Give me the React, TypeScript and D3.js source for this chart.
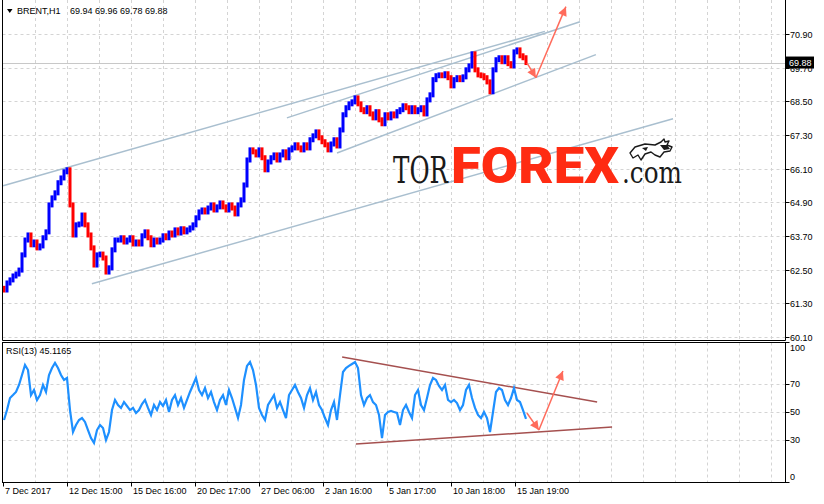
import React, { useEffect, useRef } from "react";
import * as d3 from "d3";

// hourly Brent closes (one every ~3px)
const closes = [
  61.78, 62.03, 62.14, 62.28, 62.35, 62.49, 63.03, 63.56, 63.74, 63.39,
  63.49, 63.28, 63.35, 63.64, 63.85, 64.81, 65.06, 65.24, 65.6, 65.77,
  65.99, 66.06, 64.81, 63.74, 64.1, 64.13, 64.45, 64.1, 63.74, 63.28,
  62.67, 63.03, 63.06, 62.92, 62.42, 62.57, 63.21, 63.56, 63.56, 63.64,
  63.49, 63.56, 63.64, 63.42, 63.49, 63.42, 63.71, 63.85, 63.64, 63.39,
  63.56, 63.49, 63.56, 63.71, 63.64, 63.81, 63.74, 63.92, 63.81, 63.96,
  63.85, 63.92, 63.99, 64.1, 64.35, 64.56, 64.63, 64.56, 64.7, 64.81,
  64.63, 64.74, 64.88, 64.74, 64.63, 64.81, 64.7, 64.49, 64.81, 64.99,
  65.52, 66.41, 66.77, 66.7, 66.59, 66.77, 66.49, 66.06, 66.34, 66.49,
  66.59, 66.41, 66.59, 66.7, 66.49, 66.77, 66.84, 66.95, 66.84, 66.77,
  66.95, 66.84, 67.13, 67.27, 67.41, 67.2, 67.06, 66.95, 66.77, 66.98,
  67.13, 66.91, 67.48, 68.02, 68.27, 68.41, 68.48, 68.62, 68.41, 68.2,
  68.13, 68.27, 68.05, 67.91, 68.13, 67.84, 67.7, 68.02, 67.91, 68.05,
  67.98, 68.13, 68.2, 68.34, 68.27, 68.13, 68.27, 68.13, 68.2, 68.27,
  68.05, 68.55, 68.73, 69.27, 69.41, 69.44, 69.41, 69.48, 69.34, 69.05,
  69.27, 69.34, 69.27, 69.37, 69.62, 69.76, 70.19, 69.62, 69.44, 69.41,
  69.34, 69.19, 68.84, 69.62, 69.98, 70.05, 69.91, 70.05, 69.84, 69.76,
  70.26, 70.33, 70.12, 70.05, 69.88,
];

// RSI(13) at the same bars
const rsiValues = [
  44.3, 51.4, 60.0, 62.1, 64.3, 69.3, 76.4, 83.6, 80.0, 62.1,
  65.7, 58.6, 62.1, 69.3, 64.3, 76.4, 81.4, 85.0, 81.4, 76.4,
  72.9, 74.3, 51.4, 35.7, 40.7, 44.3, 45.7, 42.9, 37.1, 31.4,
  27.9, 37.1, 40.7, 38.6, 30.0, 35.7, 51.4, 58.6, 55.0, 52.9,
  57.1, 54.3, 51.4, 52.9, 49.3, 51.4, 55.7, 58.6, 52.9, 47.9,
  55.0, 51.4, 57.1, 54.3, 58.6, 50.0, 58.6, 62.1, 55.0, 60.0,
  52.9, 58.6, 64.3, 69.3, 74.3, 65.7, 62.1, 67.1, 60.0, 64.3,
  57.1, 51.4, 58.6, 62.1, 55.0, 65.7, 60.0, 52.9, 45.7, 55.0,
  72.9, 82.9, 85.7, 80.0, 69.3, 52.9, 47.9, 44.3, 55.0, 58.6,
  62.1, 52.9, 57.1, 51.4, 45.7, 62.1, 65.7, 69.3, 64.3, 60.0,
  52.9, 62.1, 67.1, 58.6, 64.3, 55.0, 51.4, 45.7, 40.7, 51.4,
  57.1, 44.3, 62.1, 78.6, 81.4, 82.9, 84.3, 85.7, 81.4, 62.1,
  55.0, 60.0, 62.1, 57.1, 55.0, 47.9, 31.4, 47.9, 50.0, 50.7,
  50.0, 49.3, 40.7, 51.4, 55.0, 50.0, 45.7, 62.1, 65.7, 55.0,
  51.4, 60.0, 69.3, 74.3, 72.9, 68.6, 65.7, 69.3, 58.6, 57.1,
  58.6, 56.4, 51.4, 55.0, 65.7, 69.3, 60.0, 52.9, 47.9, 45.7,
  50.0, 45.7, 35.7, 50.0, 64.3, 67.1, 65.7, 58.6, 55.0, 60.0,
  67.1, 58.6, 57.1, 51.4, 45.1,
];

const priceTicks = [60.1, 61.3, 62.5, 63.7, 64.9, 66.1, 67.3, 68.5, 69.7, 70.9];
const rsiTicks = [0, 30, 50, 70, 100];
const rsiGrid = [30, 50, 70];
const timeLabels = [
  "7 Dec 2017", "12 Dec 15:00", "15 Dec 16:00", "20 Dec 17:00", "27 Dec 06:00",
  "2 Jan 16:00", "5 Jan 17:00", "10 Jan 18:00", "15 Jan 19:00",
];
const ohlc = ["69.94", "69.96", "69.78", "69.88"];
const lastPrice = 69.88;
const rsiLast = "45.1165";

// hand drawn objects, in (bar index, value)
const priceLines = [
  [[-0.3, 65.49], [180.3, 70.99]],
  [[94.3, 67.91], [192, 71.33]],
  [[111, 66.66], [197.3, 70.16]],
  [[29.3, 62.0], [223, 67.88]],
];
const priceArrows = [
  [[174.3, 69.87], [177.3, 69.34]],
  [[177.3, 69.34], [187.3, 71.87]],
];
const rsiLines = [
  [[112.7, 89.3], [197.7, 57.1]],
  [[117.3, 27.1], [202.7, 39.3]],
];
const rsiArrows = [
  [[174.3, 49.3], [178.3, 37.1]],
  [[178.3, 37.1], [186.3, 79.3]],
];

export default function App() {
  const ref = useRef<SVGSVGElement>(null);

  useEffect(() => {
    if (!ref.current) return;
    const width = 824;
    const height = 504;
    const left = 2.5;
    const right = 785.5;
    const mainBottom = 340.5;
    const rsiTop = 342.5;
    const rsiBottom = 482.5;
    const font = "Liberation Sans, Arial, sans-serif";

    const svg = d3.select(ref.current);
    svg.selectAll("*").remove();
    svg.attr("width", width).attr("height", height);

    svg.append("rect").attr("width", width).attr("height", height).attr("fill", "#fff");

    const defs = svg.append("defs");
    defs
      .append("marker")
      .attr("id", "head")
      .attr("viewBox", "0 0 10 10")
      .attr("refX", 10)
      .attr("refY", 5)
      .attr("markerWidth", 11)
      .attr("markerHeight", 9)
      .attr("markerUnits", "userSpaceOnUse")
      .attr("orient", "auto")
      .append("path")
      .attr("d", "M0,0 L10,5 L0,10 z")
      .attr("fill", "#ff6b5b");

    const x = d3.scaleLinear().domain([0, closes.length - 1]).range([4, 526]);
    const y = d3.scaleLinear().domain([60, 72]).range([340, 3]);
    const yr = d3.scaleLinear().domain([0, 100]).range([482, 342]);
    const t = d3.scalePoint<string>().domain(timeLabels).range([3, 515]);
    const half = t.step() / 2;

    const grid = svg.append("g").attr("stroke", "#d4d4d4").attr("stroke-dasharray", "3,3");
    // vertical grid in both panels
    d3.range(1, 25).forEach((k) => {
      const gx = Math.round(t(timeLabels[0])! + k * half) + 0.5;
      grid.append("line").attr("x1", gx).attr("x2", gx).attr("y1", 0).attr("y2", 340);
      grid.append("line").attr("x1", gx).attr("x2", gx).attr("y1", rsiTop).attr("y2", rsiBottom);
    });
    priceTicks.forEach((p) => {
      const gy = Math.round(y(p)) + 0.5;
      grid.append("line").attr("x1", left).attr("x2", right).attr("y1", gy).attr("y2", gy);
    });
    rsiGrid.forEach((v) => {
      const gy = Math.round(yr(v)) + 0.5;
      grid.append("line").attr("x1", left).attr("x2", right).attr("y1", gy).attr("y2", gy);
    });

    // bid line
    svg
      .append("line")
      .attr("x1", left)
      .attr("x2", right)
      .attr("y1", Math.round(y(lastPrice)) + 0.5)
      .attr("y2", Math.round(y(lastPrice)) + 0.5)
      .attr("stroke", "#c8c8c8");

    // price trend lines
    const seg = (s: number[][], sy: d3.ScaleLinear<number, number>) =>
      `M${x(s[0][0])},${sy(s[0][1])}L${x(s[1][0])},${sy(s[1][1])}`;
    priceLines.forEach((s) => {
      svg.append("path").attr("d", seg(s, y)).attr("stroke", "#a9bfcf").attr("stroke-width", 1.5).attr("fill", "none");
    });

    // bars
    const bars = svg.append("g");
    closes.forEach((c, i) => {
      const prev = i > 0 ? closes[i - 1] : c + 0.06;
      const top = y(Math.max(c, prev)) - 2.5;
      const bot = y(Math.min(c, prev)) + 2.5;
      bars
        .append("rect")
        .attr("x", x(i) - 1.5)
        .attr("width", 3)
        .attr("y", top)
        .attr("height", bot - top)
        .attr("fill", c >= prev ? "#0000ff" : "#ff0000");
    });

    // rsi trend lines
    rsiLines.forEach((s) => {
      svg.append("path").attr("d", seg(s, yr)).attr("stroke", "#a5504f").attr("stroke-width", 1.5).attr("fill", "none");
    });

    // rsi line
    svg
      .append("path")
      .datum(rsiValues)
      .attr("fill", "none")
      .attr("stroke", "#1e90ff")
      .attr("stroke-width", 2.2)
      .attr("d", d3.line<number>().x((d, i) => x(i)).y((d) => yr(d)));

    // forecast arrows
    const drawArrow = (s: number[][], sy: d3.ScaleLinear<number, number>) => {
      svg
        .append("path")
        .attr("d", seg(s, sy))
        .attr("stroke", "#ff6b5b")
        .attr("stroke-width", 1.5)
        .attr("fill", "none")
        .attr("marker-end", "url(#head)");
    };
    priceArrows.forEach((s) => drawArrow(s, y));
    rsiArrows.forEach((s) => drawArrow(s, yr));

    // logo
    const logo = svg.append("g");
    logo
      .append("text")
      .attr("x", 393)
      .attr("y", 183)
      .attr("font-family", "DejaVu Serif, serif")
      .attr("font-size", 38)
      .attr("textLength", 55)
      .attr("lengthAdjust", "spacingAndGlyphs")
      .attr("fill", "#1a1a1a")
      .text("TOR");
    logo
      .append("text")
      .attr("x", 451)
      .attr("y", 183)
      .attr("font-family", "Roboto, sans-serif")
      .attr("font-weight", 900)
      .attr("font-size", 50)
      .attr("textLength", 168)
      .attr("lengthAdjust", "spacingAndGlyphs")
      .attr("fill", "#ff2b12")
      .text("FOREX");
    logo
      .append("text")
      .attr("x", 622)
      .attr("y", 183)
      .attr("font-family", "DejaVu Serif, serif")
      .attr("font-size", 30)
      .attr("textLength", 60)
      .attr("lengthAdjust", "spacingAndGlyphs")
      .attr("fill", "#1a1a1a")
      .text(".com");
    // bull
    logo
      .append("path")
      .attr(
        "d",
        "M630,153 L635,147 L645,144 L655,145 L661,142 L664,139 L665,142 L669,141 L667,145 L672,147 L670,151 L664,152 L660,157 L655,155 L651,152 L645,154 L641,160 L638,155 L633,158 Z"
      )
      .attr("fill", "#fff")
      .attr("stroke", "#1a1a1a")
      .attr("stroke-width", 1.4)
      .attr("stroke-linejoin", "round");
    logo
      .append("path")
      .attr("d", "M660,145 L667,145 L670,149 L664,150 Z M642,148 L648,147 L646,151 Z")
      .attr("fill", "#1a1a1a");

    // frames
    const frame = svg.append("g").attr("stroke", "#000").attr("fill", "none");
    frame.append("path").attr("d", `M${left},0V${mainBottom}H${right}V0`);
    frame.append("rect").attr("x", left).attr("y", rsiTop).attr("width", right - left).attr("height", rsiBottom - rsiTop);

    // price axis
    priceTicks.forEach((p) => {
      const ty = Math.round(y(p)) + 0.5;
      svg.append("line").attr("x1", right).attr("x2", right + 4).attr("y1", ty).attr("y2", ty).attr("stroke", "#000");
      svg
        .append("text")
        .attr("x", 790)
        .attr("y", ty)
        .attr("dy", "0.35em")
        .attr("font-family", font)
        .attr("font-size", 9)
        .text(p.toFixed(2));
    });
    svg.append("rect").attr("x", 786).attr("y", y(lastPrice) - 6).attr("width", 28).attr("height", 12).attr("fill", "#000");
    svg
      .append("text")
      .attr("x", 789)
      .attr("y", y(lastPrice))
      .attr("dy", "0.35em")
      .attr("font-family", font)
      .attr("font-size", 9)
      .attr("fill", "#fff")
      .text(lastPrice.toFixed(2));

    // rsi axis
    rsiTicks.forEach((v) => {
      const ty = Math.round(yr(v)) + 0.5;
      svg.append("line").attr("x1", right).attr("x2", right + 4).attr("y1", ty).attr("y2", ty).attr("stroke", "#000");
      svg
        .append("text")
        .attr("x", 790)
        .attr("y", Math.max(348, Math.min(477, yr(v))))
        .attr("dy", "0.35em")
        .attr("font-family", font)
        .attr("font-size", 9)
        .text(v);
    });

    // time axis
    timeLabels.forEach((lbl) => {
      const tx = Math.round(t(lbl)!) + 0.5;
      svg.append("line").attr("x1", tx).attr("x2", tx).attr("y1", rsiBottom).attr("y2", rsiBottom + 4).attr("stroke", "#000");
      svg
        .append("text")
        .attr("x", tx + 1.5)
        .attr("y", 494)
        .attr("font-family", font)
        .attr("font-size", 9)
        .text(lbl);
    });

    // headers
    svg.append("path").attr("d", "M7,9 L12.5,9 L9.75,13 Z").attr("fill", "#000");
    svg
      .append("text")
      .attr("x", 17)
      .attr("y", 14)
      .attr("font-family", font)
      .attr("font-size", 9)
      .text("BRENT,H1");
    svg
      .append("text")
      .attr("x", 70)
      .attr("y", 14)
      .attr("font-family", font)
      .attr("font-size", 9)
      .text(ohlc.join(" "));
    svg
      .append("text")
      .attr("x", 6)
      .attr("y", 354)
      .attr("font-family", font)
      .attr("font-size", 9)
      .text(`RSI(13) ${rsiLast}`);
  }, []);

  return (
    <div style={{ position: "absolute", left: 0, top: 0 }}>
      <svg ref={ref} style={{ display: "block" }} />
    </div>
  );
}
